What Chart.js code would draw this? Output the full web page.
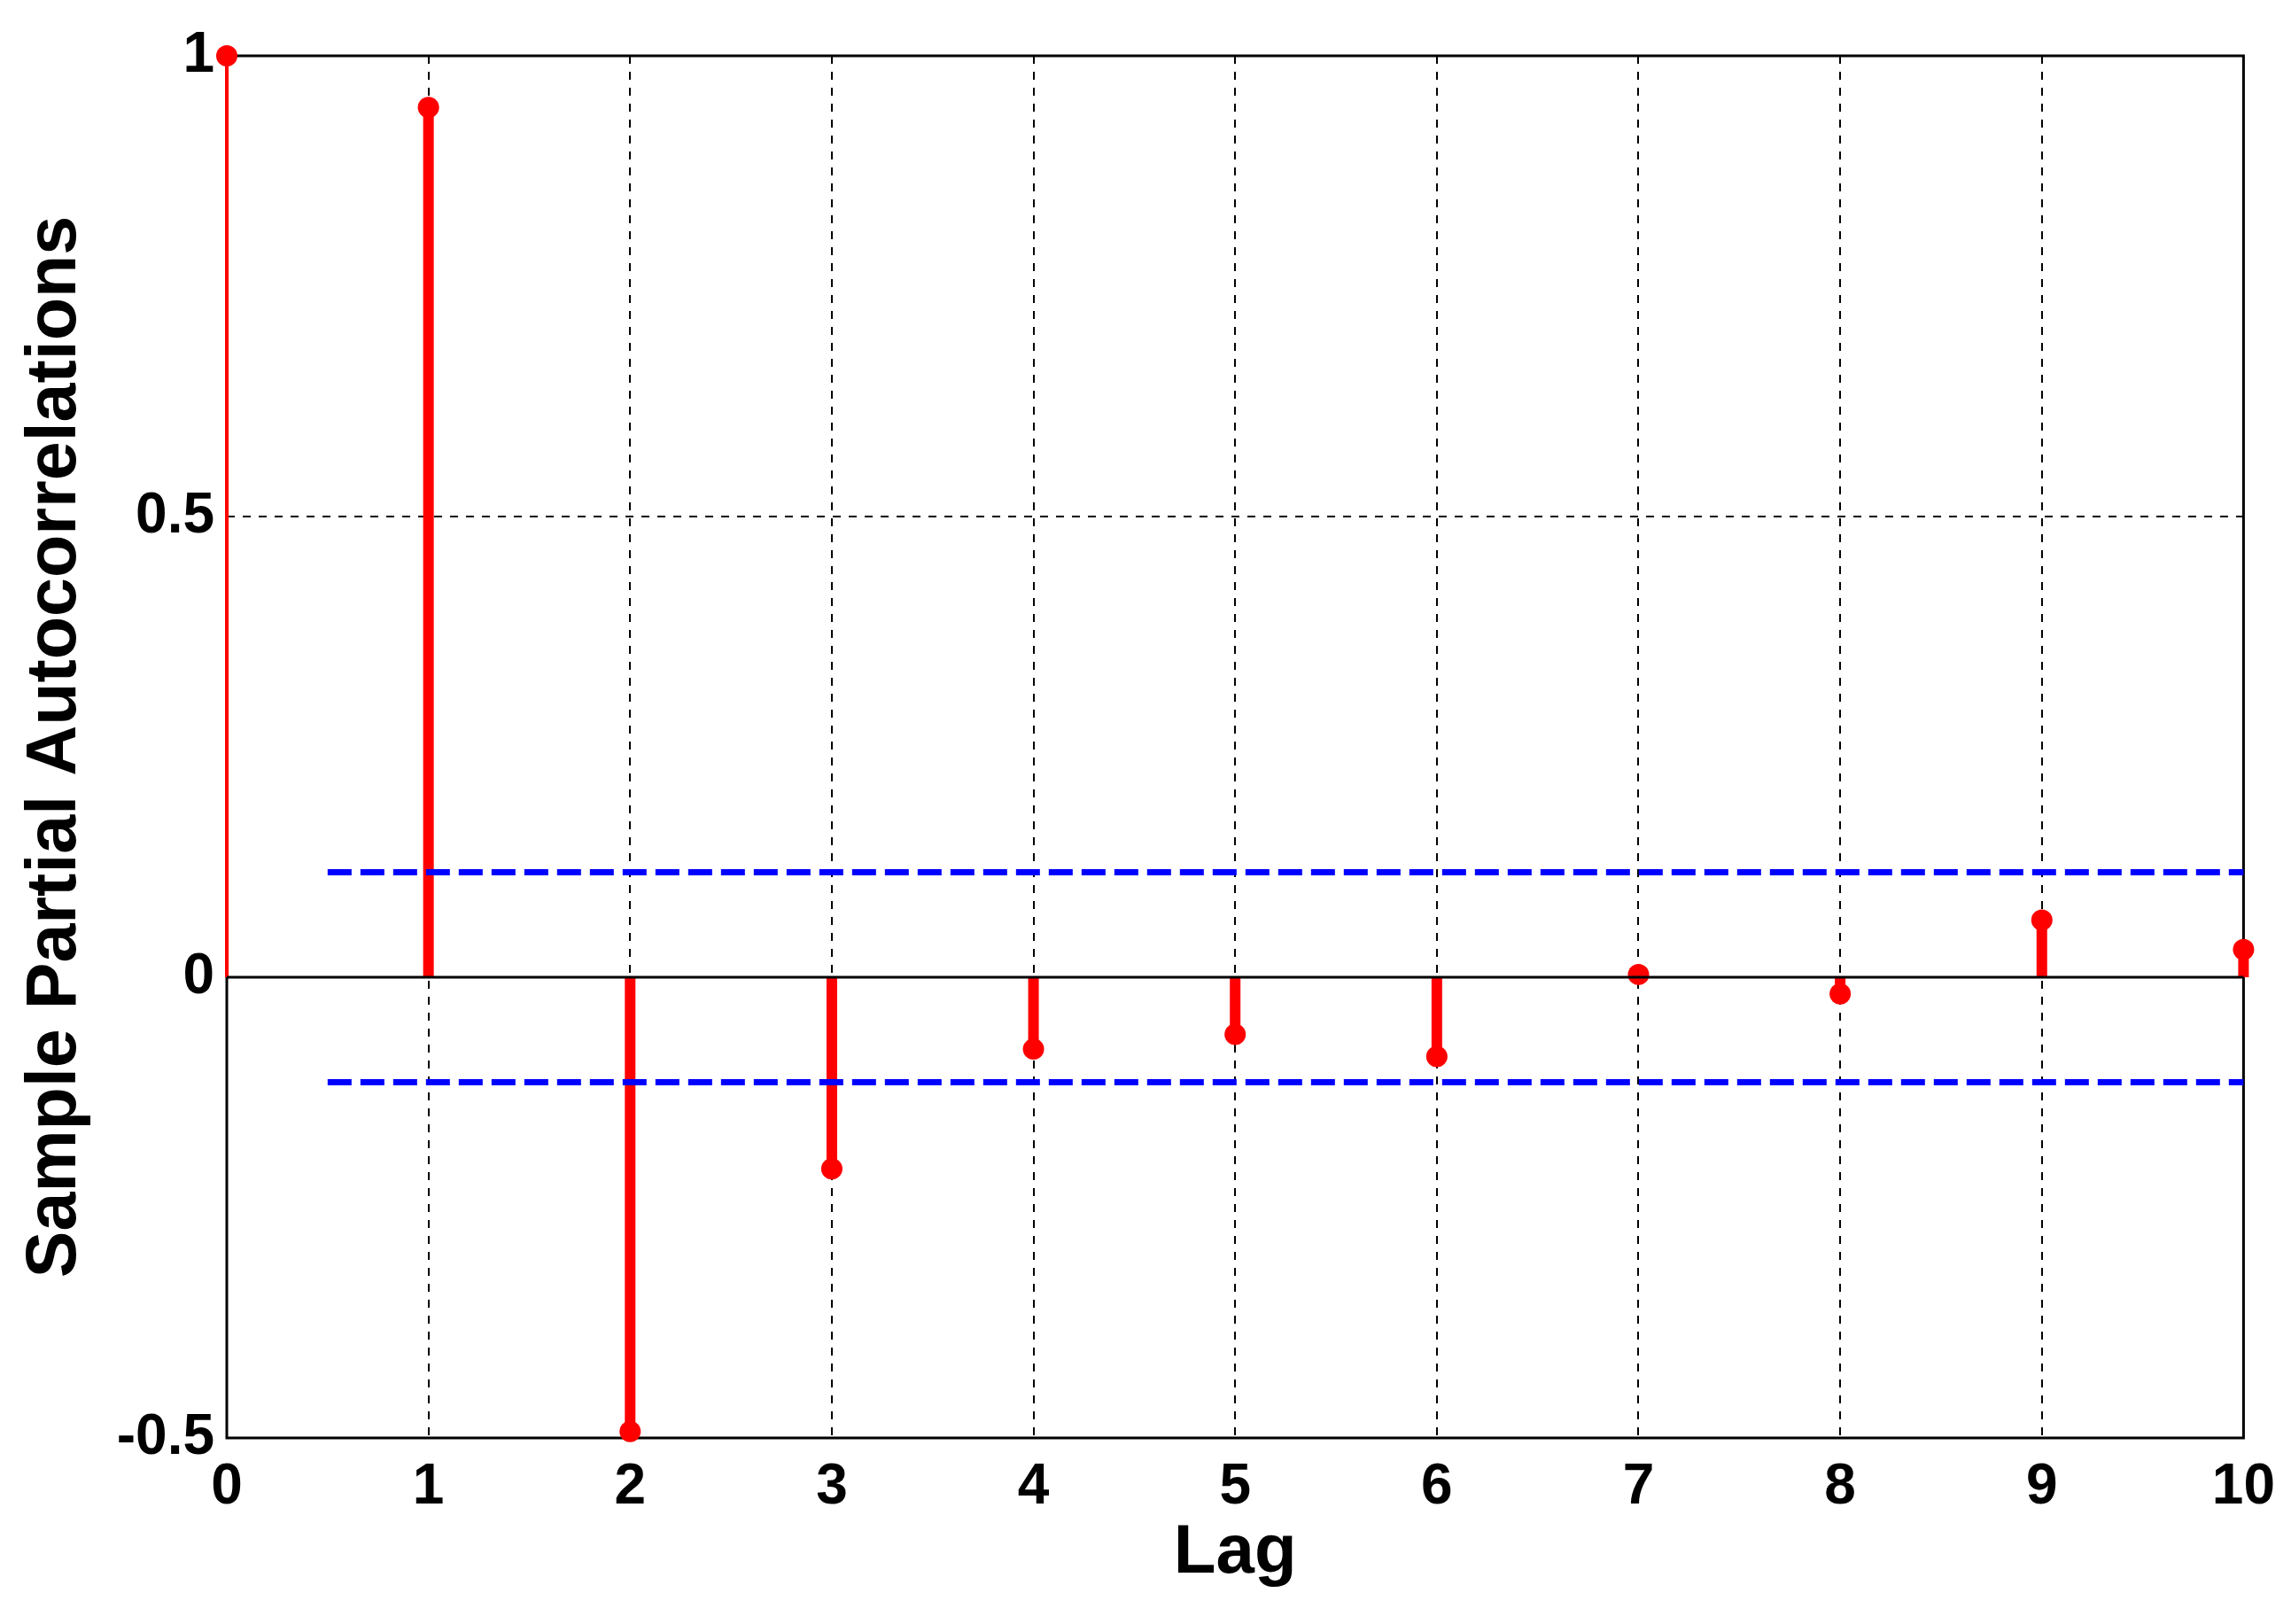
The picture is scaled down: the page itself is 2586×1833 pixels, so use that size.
<!DOCTYPE html>
<html>
<head>
<meta charset="utf-8">
<script src="https://cdn.jsdelivr.net/npm/chart.js@4/dist/chart.umd.min.js"></script>
<style>
  html, body { margin: 0; padding: 0; background: #fff; }
  #wrap { width: 2586px; height: 1833px; }
</style>
</head>
<body>
<div id="wrap"><canvas id="myChart" width="2586" height="1833"></canvas></div>
<script>
let lags = [0, 1, 2, 3, 4, 5, 6, 7, 8, 9, 10];
let pacf = [1, 0.944, -0.493, -0.208, -0.078, -0.062, -0.086, 0.003, -0.018, 0.062, 0.030];
let bound = 0.114;
let boundStart = 0.5;
let yTicks = [-0.5, 0, 0.5, 1];

let font = 'Liberation Sans, Arial, sans-serif';

// stems: lag 0 is drawn thin, the rest thick
let stem0 = [{ x: lags[0], y: 0 }, { x: lags[0], y: pacf[0] }];
let stems = [];
for (let i = 1; i < lags.length; i++) {
  stems.push({ x: lags[i], y: 0 });
  stems.push({ x: lags[i], y: pacf[i] });
  stems.push({ x: lags[i], y: null });
}
let points = lags.map((l, i) => ({ x: l, y: pacf[i] }));
let baseline = [{ x: lags[0], y: 0 }, { x: lags[lags.length - 1], y: 0 }];
let upper = [{ x: boundStart, y: bound }, { x: lags[lags.length - 1], y: bound }];
let lower = [{ x: boundStart, y: -bound }, { x: lags[lags.length - 1], y: -bound }];

const frame = {
  id: 'frame',
  beforeDatasetsDraw(chart) {
    const a = chart.chartArea;
    const c = chart.ctx;
    c.save();
    c.strokeStyle = '#000';
    c.lineWidth = 3;
    c.strokeRect(a.left, a.top, a.right - a.left, a.bottom - a.top);
    c.restore();
  }
};

var ctx = document.getElementById('myChart').getContext('2d');
new Chart(ctx, {
  type: 'line',
  data: {
    datasets: [
      { data: baseline, borderColor: '#000', borderWidth: 3, pointRadius: 0 },
      { data: upper, borderColor: '#0000ff', borderWidth: 7, borderDash: [27, 10], pointRadius: 0 },
      { data: lower, borderColor: '#0000ff', borderWidth: 7, borderDash: [27, 10], pointRadius: 0 },
      { data: stem0, borderColor: '#ff0000', borderWidth: 4, pointRadius: 0, borderCapStyle: 'butt' },
      { data: stems, borderColor: '#ff0000', borderWidth: 12, pointRadius: 0, spanGaps: false, borderCapStyle: 'butt' },
      { data: points, showLine: false, pointRadius: 12, pointBackgroundColor: '#ff0000', pointBorderWidth: 0 }
    ]
  },
  options: {
    responsive: false,
    animation: false,
    clip: false,
    layout: { padding: { top: 63, right: 50, left: 0, bottom: 0 } },
    plugins: { legend: { display: false }, tooltip: { enabled: false } },
    scales: {
      x: {
        type: 'linear',
        min: 0,
        max: 10,
        afterFit: (s) => { s.height = 210; },
        ticks: { stepSize: 1, color: '#000', padding: 18, font: { family: font, size: 64, weight: 'bold' } },
        grid: {
          color: (c) => (c.tick && c.tick.value > 0 && c.tick.value < 10) ? '#000' : 'rgba(0,0,0,0)',
          lineWidth: 2,
          drawTicks: false
        },
        border: { display: false, dash: [9, 9] },
        title: { display: true, text: 'Lag', color: '#000', padding: { top: 0, bottom: 33 }, font: { family: font, size: 78, weight: 'bold' } }
      },
      y: {
        min: -0.5,
        max: 1,
        afterFit: (s) => { s.width = 256; },
        afterBuildTicks: (s) => { s.ticks = yTicks.map(v => ({ value: v })); },
        ticks: { color: '#000', padding: 14, callback: (v) => String(v), font: { family: font, size: 64, weight: 'bold' } },
        grid: {
          color: (c) => (c.tick && c.tick.value === 0.5) ? '#000' : 'rgba(0,0,0,0)',
          lineWidth: 2,
          drawTicks: false
        },
        border: { display: false, dash: [9, 9] },
        title: { display: true, text: 'Sample Partial Autocorrelations', color: '#000', padding: { top: 16, bottom: 0 }, font: { family: font, size: 79, weight: 'bold' } }
      }
    }
  },
  plugins: [frame]
});
</script>
</body>
</html>
